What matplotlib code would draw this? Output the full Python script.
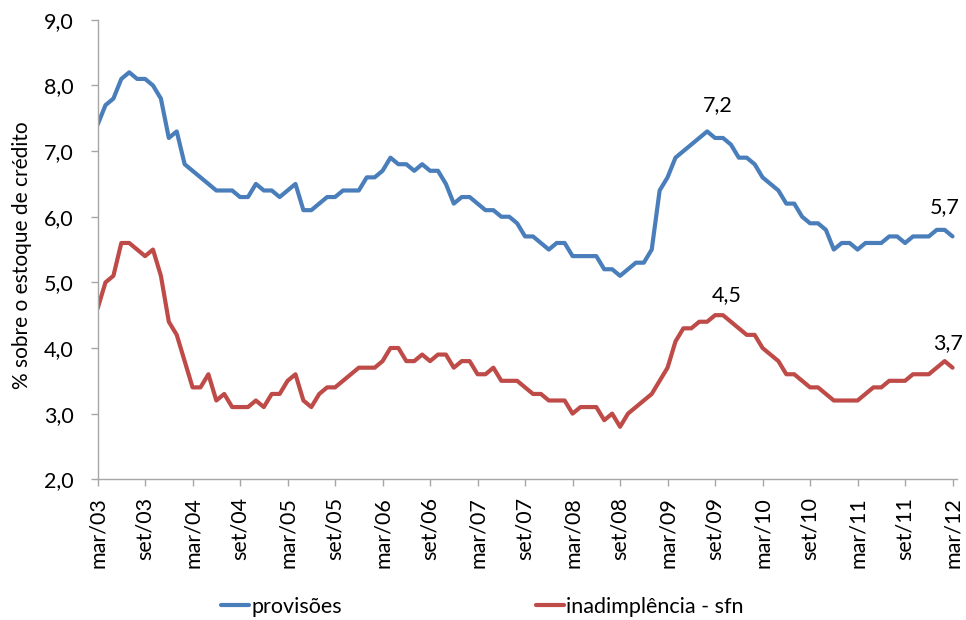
import numpy as np
import matplotlib
matplotlib.use("Agg")
import matplotlib.pyplot as plt

plt.rcParams["font.family"] = ["Lato", "DejaVu Sans"]

# monthly series, mar/03 .. mar/12 (% of credit stock)
provisoes = [
    7.4, 7.7, 7.8, 8.1, 8.2, 8.1, 8.1, 8.0, 7.8, 7.2, 7.3, 6.8,
    6.7, 6.6, 6.5, 6.4, 6.4, 6.4, 6.3, 6.3, 6.5, 6.4, 6.4, 6.3,
    6.4, 6.5, 6.1, 6.1, 6.2, 6.3, 6.3, 6.4, 6.4, 6.4, 6.6, 6.6,
    6.7, 6.9, 6.8, 6.8, 6.7, 6.8, 6.7, 6.7, 6.5, 6.2, 6.3, 6.3,
    6.2, 6.1, 6.1, 6.0, 6.0, 5.9, 5.7, 5.7, 5.6, 5.5, 5.6, 5.6,
    5.4, 5.4, 5.4, 5.4, 5.2, 5.2, 5.1, 5.2, 5.3, 5.3, 5.5, 6.4,
    6.6, 6.9, 7.0, 7.1, 7.2, 7.3, 7.2, 7.2, 7.1, 6.9, 6.9, 6.8,
    6.6, 6.5, 6.4, 6.2, 6.2, 6.0, 5.9, 5.9, 5.8, 5.5, 5.6, 5.6,
    5.5, 5.6, 5.6, 5.6, 5.7, 5.7, 5.6, 5.7, 5.7, 5.7, 5.8, 5.8,
    5.7,
]
inadimplencia = [
    4.6, 5.0, 5.1, 5.6, 5.6, 5.5, 5.4, 5.5, 5.1, 4.4, 4.2, 3.8,
    3.4, 3.4, 3.6, 3.2, 3.3, 3.1, 3.1, 3.1, 3.2, 3.1, 3.3, 3.3,
    3.5, 3.6, 3.2, 3.1, 3.3, 3.4, 3.4, 3.5, 3.6, 3.7, 3.7, 3.7,
    3.8, 4.0, 4.0, 3.8, 3.8, 3.9, 3.8, 3.9, 3.9, 3.7, 3.8, 3.8,
    3.6, 3.6, 3.7, 3.5, 3.5, 3.5, 3.4, 3.3, 3.3, 3.2, 3.2, 3.2,
    3.0, 3.1, 3.1, 3.1, 2.9, 3.0, 2.8, 3.0, 3.1, 3.2, 3.3, 3.5,
    3.7, 4.1, 4.3, 4.3, 4.4, 4.4, 4.5, 4.5, 4.4, 4.3, 4.2, 4.2,
    4.0, 3.9, 3.8, 3.6, 3.6, 3.5, 3.4, 3.4, 3.3, 3.2, 3.2, 3.2,
    3.2, 3.3, 3.4, 3.4, 3.5, 3.5, 3.5, 3.6, 3.6, 3.6, 3.7, 3.8,
    3.7,
]
tick_labels = ["mar/03", "set/03", "mar/04", "set/04", "mar/05", "set/05",
               "mar/06", "set/06", "mar/07", "set/07", "mar/08", "set/08",
               "mar/09", "set/09", "mar/10", "set/10", "mar/11", "set/11",
               "mar/12"]
yticks = [2.0, 3.0, 4.0, 5.0, 6.0, 7.0, 8.0, 9.0]
# data labels: month index, text, offset in points
labels_prov = [(78, "7,2", (2, 19.5)), (108, "5,7", (-5.5, 17))]
labels_inad = [(79, "4,5", (3, 10)), (108, "3,7", (-3.5, 13.5))]

blue = "#4A7EBB"
red = "#BE4B48"
gray = "#A6A6A6"
fs = 15.5

x = np.arange(len(provisoes))

fig = plt.figure(figsize=(9.66, 6.2), dpi=100)
ax = fig.add_axes([0.101, 0.227, 0.89, 0.741])

ax.plot(x, provisoes, color=blue, lw=3.0, solid_joinstyle="round",
        solid_capstyle="round", label="provisões")
ax.plot(x, inadimplencia, color=red, lw=3.0, solid_joinstyle="round",
        solid_capstyle="round", label="inadimplência - sfn")

for i, txt, off in labels_prov:
    ax.annotate(txt, (x[i], provisoes[i]), xytext=off,
                textcoords="offset points", ha="center", va="baseline",
                fontsize=fs, annotation_clip=False)
for i, txt, off in labels_inad:
    ax.annotate(txt, (x[i], inadimplencia[i]), xytext=off,
                textcoords="offset points", ha="center", va="baseline",
                fontsize=fs, annotation_clip=False)

ax.set_xlim(0, 108.6)
ax.set_ylim(2, 9)
ax.set_xticks(x[::6])
ax.set_xticklabels(tick_labels, rotation=90, fontsize=fs)
ax.set_yticks(yticks)
ax.set_yticklabels([f"{v:.1f}".replace(".", ",") for v in yticks], fontsize=fs)

for side in ["top", "right"]:
    ax.spines[side].set_visible(False)
for side in ["left", "bottom"]:
    ax.spines[side].set_color(gray)
    ax.spines[side].set_linewidth(1.0)
ax.tick_params(axis="both", direction="out", length=5, width=1.0, color=gray)
ax.tick_params(axis="x", pad=8)
ax.tick_params(axis="y", pad=12)

ax.set_ylabel("% sobre o estoque de crédito", fontsize=15)
ax.yaxis.set_label_coords(-0.076, 0.488)

fig.legend(loc="center", bbox_to_anchor=(0.4995, 0.021), ncol=2,
           frameon=False, fontsize=fs, handlelength=1.3, handletextpad=0.1,
           columnspacing=9.0, borderpad=0)

fig.savefig("out.png", dpi=100)
